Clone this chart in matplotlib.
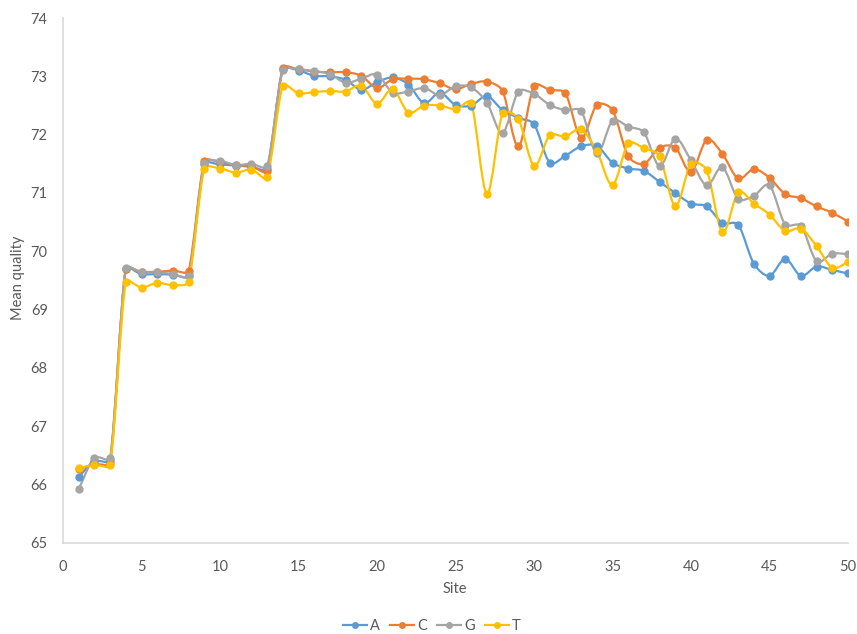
import matplotlib
matplotlib.use('Agg')

import matplotlib.pyplot as plt
import numpy as np
from matplotlib.path import Path
from matplotlib.patches import PathPatch
from matplotlib.lines import Line2D

plt.rcParams['font.family'] = ['Lato', 'DejaVu Sans']

# Data
sites = list(range(1, 51))
qual_a = [66.13, 66.40, 66.42, 69.70, 69.61, 69.61, 69.60, 69.59, 71.49, 71.49,
          71.47, 71.45, 71.42, 73.12, 73.10, 73.01, 73.00, 72.94, 72.77, 72.90,
          72.98, 72.86, 72.54, 72.72, 72.51, 72.50, 72.66, 72.42, 72.29, 72.18,
          71.52, 71.64, 71.80, 71.81, 71.52, 71.42, 71.38, 71.19, 71.00, 70.82,
          70.77, 70.49, 70.46, 69.79, 69.58, 69.87, 69.58, 69.74, 69.68, 69.62]
qual_c = [66.26, 66.35, 66.38, 69.70, 69.65, 69.65, 69.67, 69.67, 71.54, 71.53,
          71.48, 71.46, 71.38, 73.14, 73.12, 73.08, 73.07, 73.07, 73.01, 72.80,
          72.95, 72.96, 72.95, 72.88, 72.78, 72.87, 72.91, 72.75, 71.80, 72.84,
          72.77, 72.71, 71.95, 72.51, 72.42, 71.63, 71.50, 71.78, 71.78, 71.36,
          71.91, 71.67, 71.25, 71.41, 71.26, 70.98, 70.91, 70.77, 70.66, 70.51]
qual_g = [65.92, 66.46, 66.45, 69.71, 69.64, 69.64, 69.61, 69.58, 71.51, 71.55,
          71.48, 71.50, 71.46, 73.11, 73.12, 73.09, 73.04, 72.89, 72.96, 73.03,
          72.72, 72.74, 72.80, 72.68, 72.83, 72.81, 72.55, 72.03, 72.74, 72.70,
          72.51, 72.42, 72.41, 71.68, 72.24, 72.14, 72.04, 71.46, 71.93, 71.56,
          71.13, 71.44, 70.90, 70.95, 71.13, 70.46, 70.44, 69.83, 69.96, 69.95]
qual_t = [66.28, 66.34, 66.34, 69.48, 69.38, 69.46, 69.42, 69.48, 71.42, 71.42,
          71.35, 71.40, 71.27, 72.84, 72.71, 72.73, 72.75, 72.74, 72.84, 72.53,
          72.78, 72.38, 72.50, 72.50, 72.44, 72.55, 70.99, 72.37, 72.27, 71.47,
          71.99, 71.97, 72.09, 71.72, 71.14, 71.85, 71.77, 71.63, 70.78, 71.50,
          71.39, 70.33, 71.01, 70.82, 70.63, 70.35, 70.39, 70.09, 69.72, 69.82]

series_names = ['A', 'C', 'G', 'T']
series_vals = [qual_a, qual_c, qual_g, qual_t]
colors = ['#5B9BD5', '#ED7D31', '#A5A5A5', '#FFC000']

# pixel size of one data unit, used to keep the smoothing in screen proportions
SX = 15.7
SY = 58.3


def smooth_path(x, y):
    # Excel-like smoothed line: Catmull-Rom bezier handles, clamped to a third
    # of the segment length so flat steps after big jumps don't overshoot
    p = np.column_stack([np.asarray(x, float) * SX, np.asarray(y, float) * SY])
    n = len(p)
    verts = [tuple(p[0])]
    codes = [Path.MOVETO]

    def handle(i, seglen):
        v = (p[min(i + 1, n - 1)] - p[max(i - 1, 0)]) / 6
        lim = seglen / 3
        L = np.hypot(*v)
        if L > lim:
            v = v * lim / L
        return v

    for i in range(n - 1):
        seg = np.hypot(*(p[i + 1] - p[i]))
        c1 = p[i] + handle(i, seg)
        c2 = p[i + 1] - handle(i + 1, seg)
        verts += [tuple(c1), tuple(c2), tuple(p[i + 1])]
        codes += [Path.CURVE4] * 3
    verts = np.array(verts)
    verts[:, 0] /= SX
    verts[:, 1] /= SY
    return Path(verts, codes)


fig = plt.figure(figsize=(8.57, 6.34), dpi=100)
ax = fig.add_axes([63 / 857, 1 - 543 / 634, (848 - 63) / 857, (543 - 18) / 634])

handles = []
for name, vals, col in zip(series_names, series_vals, colors):
    patch = PathPatch(smooth_path(sites, vals), facecolor='none', edgecolor=col,
                      linewidth=1.6, capstyle='round', joinstyle='round')
    ax.add_patch(patch)
    ax.plot(sites, vals, linestyle='none', marker='o', markersize=5,
            color=col, markeredgecolor=col)
    handles.append(Line2D([], [], color=col, linewidth=1.6, marker='o',
                          markersize=4, label=name))

ax.set_xlim(0, 50)
ax.set_ylim(65, 74)
ax.set_xticks(range(0, 51, 5))
ax.set_yticks(range(65, 75))

for s in ['top', 'right']:
    ax.spines[s].set_visible(False)
for s in ['left', 'bottom']:
    ax.spines[s].set_color('#D9D9D9')
    ax.spines[s].set_linewidth(1.2)

ax.tick_params(axis='both', length=0, labelsize=10.5, labelcolor='#595959')
ax.tick_params(axis='y', pad=11)
ax.tick_params(axis='x', pad=12)

fig.text(18 / 857, 1 - 278 / 634, 'Mean quality', rotation=90, ha='center',
         va='center', fontsize=10.5, color='#595959')
fig.text(455 / 857, 1 - 589 / 634, 'Site', ha='center', va='center',
         fontsize=10.5, color='#595959')

fig.legend(handles=handles, loc='center', bbox_to_anchor=(432 / 857, 1 - 626 / 634),
           ncol=4, frameon=False, fontsize=10.5, labelcolor='#595959',
           handlelength=1.65, handletextpad=0.2, columnspacing=0.7,
           borderpad=0, borderaxespad=0)

fig.savefig('out.png', dpi=100, facecolor='white')
